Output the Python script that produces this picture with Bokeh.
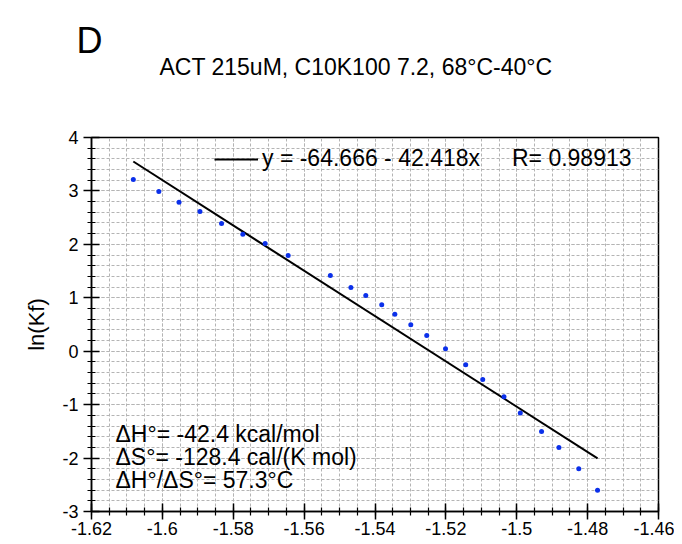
import numpy as np
from bokeh.plotting import figure
from bokeh.layouts import column
from bokeh.models import FixedTicker, Label, Legend, LegendItem
from bokeh.embed import file_html
from bokeh.resources import INLINE

# ---- data ----
inv_T = [-1.6082, -1.6010, -1.5953, -1.5894, -1.5833, -1.5773, -1.5710, -1.5645,
         -1.5526, -1.5468, -1.5426, -1.5381, -1.5344, -1.5299, -1.5254, -1.5201,
         -1.5144, -1.5096, -1.5036, -1.4990, -1.4930, -1.4881, -1.4825, -1.4772]
ln_kf = [3.215, 2.991, 2.790, 2.616, 2.391, 2.191, 2.017, 1.792,
         1.418, 1.193, 1.043, 0.869, 0.693, 0.494, 0.294, 0.045,
         -0.255, -0.530, -0.854, -1.157, -1.504, -1.803, -2.202, -2.603]
fit_intercept = -64.666
fit_slope = -42.418
fit_r = 0.98913

x_ticks = [-1.62, -1.6, -1.58, -1.56, -1.54, -1.52, -1.5, -1.48, -1.46]
y_ticks = [-3, -2, -1, 0, 1, 2, 3, 4]

panel_letter = "D"
title_text = "ACT 215uM, C10K100 7.2, 68°C-40°C"
y_label = "ln(Kf)"
legend_text = "y = -64.666 - 42.418x" + "\u00a0" * 5 + "R= 0.98913"
thermo_lines = ["ΔH°= -42.4 kcal/mol", "ΔS°= -128.4 cal/(K mol)", "ΔH°/ΔS°= 57.3°C"]

FONT = "Liberation Sans"
FW, FH = 567, 374
LEFT, RIGHT, HEAD = 91, 16, 100

# ---- heading strip (panel letter + chart title) ----
head = figure(width=LEFT + FW + RIGHT, height=HEAD, x_range=(0, 1), y_range=(0, 1),
              min_border=0, output_backend="svg", toolbar_location=None, title=None)
if "frame_align" in head.properties():
    head.frame_align = False
head.axis.visible = False
head.grid.visible = False
head.outline_line_color = None
head.add_layout(Label(x=LEFT + FW / 2 - 19, y=HEAD - 66, x_units="screen", y_units="screen",
                      text=title_text, text_align="center", text_baseline="middle",
                      text_font=FONT, text_font_size="23px", text_color="black"))
head.add_layout(Label(x=LEFT - 15, y=HEAD - 40, x_units="screen", y_units="screen",
                      text=panel_letter, text_align="left", text_baseline="middle",
                      text_font=FONT, text_font_size="36px", text_color="black"))

# ---- main plot ----
p = figure(frame_width=FW, frame_height=FH,
           x_range=(-1.62, -1.46), y_range=(-3, 4),
           min_border_left=LEFT, min_border_right=RIGHT, min_border_top=137 - HEAD,
           min_border_bottom=20,
           output_backend="svg", toolbar_location=None, title=None)
if "frame_align" in p.properties():
    p.frame_align = False
p.outline_line_color = "black"
p.outline_line_width = 1.5
p.background_fill_color = "white"
p.border_fill_color = "white"

x_minor = list(np.round(np.arange(-1.62, -1.4599, 0.005), 4))
y_minor = list(np.round(np.arange(-3, 4.001, 0.2), 2))
xt = FixedTicker(ticks=x_ticks, minor_ticks=x_minor)
yt = FixedTicker(ticks=y_ticks, minor_ticks=y_minor)
p.xaxis.ticker = xt
p.yaxis.ticker = yt
p.xaxis.major_label_overrides = {t: f"{t:g}" for t in x_ticks}
p.yaxis.major_label_overrides = {t: f"{t:g}" for t in y_ticks}

for ax in (p.xaxis[0], p.yaxis[0]):
    ax.axis_line_color = "black"
    ax.axis_line_width = 1.5
    ax.major_tick_line_color = "black"
    ax.major_tick_line_width = 1.5
    ax.minor_tick_line_color = "black"
    ax.minor_tick_line_width = 1.2
    ax.major_tick_in = 8
    ax.major_tick_out = 8
    ax.minor_tick_in = 4
    ax.minor_tick_out = 4
    ax.major_label_text_font = FONT
    ax.major_label_text_font_size = "18px"
    ax.major_label_text_color = "black"
p.xaxis.major_label_standoff = 2
p.yaxis.major_label_standoff = 5

p.yaxis.axis_label = y_label
p.yaxis.axis_label_text_font = FONT
p.yaxis.axis_label_text_font_size = "22px"
p.yaxis.axis_label_text_font_style = "normal"
p.yaxis.axis_label_text_color = "black"
p.yaxis.axis_label_standoff = 10

for g in (p.xgrid[0], p.ygrid[0]):
    g.grid_line_color = "#b4b4b4"
    g.grid_line_dash = "3 2"
    g.grid_line_width = 1
    g.minor_grid_line_color = "#b4b4b4"
    g.minor_grid_line_dash = "3 2"
    g.minor_grid_line_width = 1
p.xgrid.ticker = xt
p.ygrid.ticker = yt

# fitted line across the data span
fx = [min(inv_T), max(inv_T)]
fy = [fit_intercept + fit_slope * v for v in fx]
fit = p.line(fx, fy, line_color="black", line_width=2)

p.scatter(inv_T, ln_kf, size=5, color="#0b30ea", line_color=None)

legend = Legend(items=[LegendItem(label=legend_text, renderers=[fit])],
                location=(123, 339), border_line_alpha=0, background_fill_alpha=0,
                margin=0, padding=0, spacing=0, label_standoff=4,
                glyph_width=44, glyph_height=20,
                label_text_font=FONT, label_text_font_size="23px", label_text_color="black")
p.add_layout(legend, "center")

for i, t in enumerate(thermo_lines):
    p.add_layout(Label(x=24, y=78 - 23 * i, x_units="screen", y_units="screen", text=t,
                       text_baseline="middle", text_font=FONT, text_font_size="23px",
                       text_color="black"))

layout = column(head, p, spacing=0)
open("out.html", "w").write(file_html(layout, INLINE))
